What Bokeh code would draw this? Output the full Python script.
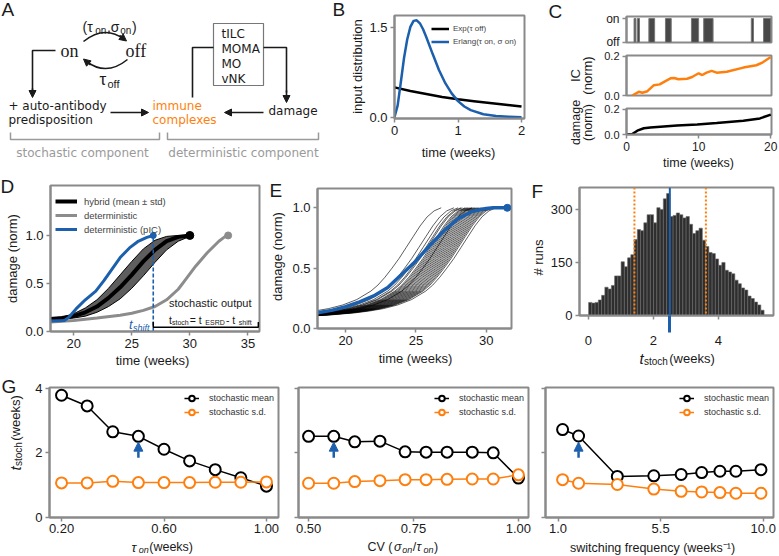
from math import pi

from bokeh.embed import file_html
from bokeh.layouts import column, row
from bokeh.models import (Arrow, FixedTicker, Label, Legend, LegendItem,
                          NormalHead, PrintfTickFormatter, Range1d, Span)
from bokeh.plotting import figure
from bokeh.resources import INLINE

FONT = "Liberation Sans"
DIAG_FONT = "DejaVu Sans"
SERIF = "Liberation Serif"
INK = "#1a1a1a"
BLUE = "#1c5fad"
ORANGE = "#ff7f0e"
FRAME = "#8a8a8a"
DET_GRAY = "#8c8c8c"
NOTE_GRAY = "#9a9a9a"

# ---------------- data ----------------
# B: waiting-time densities (per week)
b_time = [0.0, 0.05, 0.1, 0.15, 0.2, 0.25, 0.3, 0.35, 0.4, 0.45, 0.5, 0.6,
          0.7, 0.8, 0.9, 1.0, 1.1, 1.2, 1.4, 1.6, 1.8, 2.0]
b_erlang = [0.0, 0.20, 0.59, 0.99, 1.30, 1.51, 1.61, 1.62, 1.57, 1.47, 1.34,
            1.06, 0.79, 0.57, 0.40, 0.27, 0.18, 0.12, 0.05, 0.02, 0.01, 0.0]
b_exp_time = [0.0, 0.25, 0.5, 0.75, 1.0, 1.25, 1.5, 1.75, 2.0]
b_exp = [0.50, 0.44, 0.39, 0.34, 0.30, 0.27, 0.24, 0.21, 0.18]

# C: one example run
c_on_start = [1.05, 1.5, 3.1, 5.4, 9.0, 10.7, 17.3, 19.0]
c_on_end = [1.3, 1.8, 3.9, 6.2, 10.0, 12.0, 17.6, 20.0]
c_ic_time = [0.8, 1.7, 2.2, 2.9, 3.8, 4.6, 5.4, 6.1, 6.6, 7.2, 8.4, 9.1,
             10.0, 10.5, 11.1, 11.8, 12.5, 13.9, 16.2, 18.0, 18.9, 20.0]
c_ic = [0.0, 0.019, 0.014, 0.022, 0.053, 0.057, 0.074, 0.088, 0.09, 0.083,
        0.086, 0.095, 0.114, 0.105, 0.117, 0.126, 0.117, 0.122, 0.143, 0.155,
        0.17, 0.197]
c_dmg_time = [0.0, 0.8, 1.5, 2.4, 3.3, 4.7, 7.0, 9.8, 12.5, 16.2, 18.5, 20.0]
c_dmg = [0.0, 0.004, 0.03, 0.049, 0.055, 0.061, 0.07, 0.078, 0.09, 0.108,
         0.127, 0.157]

# D: damage trajectories
d_pic_time = [18.0, 19.2, 19.6, 20.2, 21.0, 21.9, 22.6, 23.3, 24.0, 24.8,
              25.5, 26.3, 26.85]
d_pic = [0.11, 0.115, 0.15, 0.235, 0.33, 0.42, 0.53, 0.65, 0.77, 0.87, 0.935,
         0.98, 1.0]
d_hyb_time = [18, 19, 20, 21, 22, 23, 24, 25, 26, 27, 28, 29, 30]
d_hyb_mean = [0.13, 0.14, 0.16, 0.2, 0.26, 0.35, 0.46, 0.59, 0.73, 0.85,
              0.94, 0.985, 1.0]
d_hyb_lo = [0.125, 0.13, 0.14, 0.16, 0.2, 0.26, 0.34, 0.45, 0.58, 0.72, 0.85,
            0.94, 0.99]
d_hyb_hi = [0.135, 0.15, 0.185, 0.245, 0.33, 0.45, 0.59, 0.73, 0.86, 0.95,
            0.99, 1.0, 1.0]
d_det_time = [18, 20, 22, 24, 25, 26, 27, 28, 29, 29.5, 30, 30.5, 31, 31.5,
              32, 32.5, 33, 33.3]
d_det = [0.10, 0.115, 0.14, 0.17, 0.19, 0.22, 0.26, 0.33, 0.44, 0.52, 0.6,
         0.68, 0.75, 0.82, 0.88, 0.94, 0.985, 1.0]
t_shift = 26.85
t_end_axis = 35.9

# E: single runs (shape relative to end time) and hybrid mean
e_dt = [-14, -13, -12, -11, -10, -9, -8, -7, -6, -5, -4.5, -4, -3.5, -3,
        -2.5, -2, -1.5, -1, -0.5, 0]
e_shape = [0.1, 0.105, 0.11, 0.12, 0.13, 0.145, 0.165, 0.195, 0.24, 0.31,
           0.36, 0.425, 0.5, 0.58, 0.67, 0.76, 0.85, 0.925, 0.975, 1.0]
e_ends = [26.8, 27.7, 28.0, 28.2, 28.3, 28.5, 28.6, 28.7, 28.8, 28.9, 29.0,
          29.0, 29.1, 29.2, 29.3, 29.4, 29.5, 29.6, 29.7, 29.8, 29.9, 30.0,
          30.1, 30.2, 30.3, 30.4, 30.5, 30.7]
e_mean_time = [18, 19, 20, 21, 22, 23, 24, 25, 26, 27, 28, 29, 30, 30.5, 31.5]
e_mean = [0.13, 0.15, 0.18, 0.22, 0.27, 0.34, 0.45, 0.56, 0.69, 0.81, 0.91,
          0.97, 0.995, 1.0, 1.0]

# F: histogram of t_stoch
f_bin_start = 0.01
f_bin_width = 0.1
f_counts = [37, 35, 37, 44, 57, 80, 75, 85, 112, 112,
            152, 138, 163, 172, 215, 243, 240, 262, 285, 285,
            262, 305, 300, 330, 345, 280, 283, 290, 285, 276,
            280, 258, 232, 240, 247, 213, 195, 178, 175, 160,
            142, 150, 128, 123, 118, 100, 90, 78, 72, 55,
            48, 38, 30, 15]
f_mean = 2.51
f_sd_lo = 1.42
f_sd_hi = 3.62

# G: parameter scans
g1_x = [0.2, 0.3, 0.4, 0.5, 0.6, 0.7, 0.8, 0.9, 1.0]
g1_mean = [3.78, 3.45, 2.65, 2.51, 2.11, 1.75, 1.48, 1.23, 0.97]
g1_sd = [1.07, 1.07, 1.12, 1.08, 1.08, 1.08, 1.09, 1.09, 1.10]
g1_ref = 0.5
g2_x = [0.50, 0.56, 0.61, 0.67, 0.73, 0.78, 0.83, 0.89, 0.94, 1.00]
g2_mean = [2.51, 2.51, 2.34, 2.36, 2.03, 2.02, 2.02, 2.02, 2.00, 1.22]
g2_sd = [1.06, 1.06, 1.11, 1.14, 1.17, 1.17, 1.18, 1.19, 1.19, 1.32]
g2_ref = 0.56
g3_x = [1.2, 1.9, 3.6, 5.2, 6.4, 7.3, 8.1, 8.8, 9.9]
g3_mean = [2.72, 2.52, 1.27, 1.29, 1.33, 1.39, 1.43, 1.43, 1.48]
g3_sd = [1.17, 1.06, 1.02, 0.88, 0.81, 0.79, 0.77, 0.75, 0.75]
g3_ref = 1.9

# ---------------- helpers ----------------
CW = {' ': 0.278, '(': 0.333, ')': 0.333, ',': 0.278, '-': 0.333, '=': 0.584,
      '/': 0.278, '.': 0.278, 'i': 0.222, 'l': 0.222, 'j': 0.222, 't': 0.278,
      'f': 0.278, 'r': 0.333, 'm': 0.833, 'w': 0.722, 'c': 0.5, 's': 0.5,
      'k': 0.5, 'v': 0.5, 'x': 0.5, 'y': 0.5, 'z': 0.5, 'E': 0.667,
      'S': 0.667, 'R': 0.722, 'D': 0.722, 'C': 0.722, 'V': 0.667,
      'τ': 0.52, 'σ': 0.62}


def text_width(s, size):
    return sum(CW.get(ch, 0.556) for ch in s) * size * 1.06


def to_data(g, X, Y):
    fl, ft, fw, fh, (x0, x1), (y0, y1) = g
    return x0 + (X - fl) / fw * (x1 - x0), y1 - (Y - ft) / fh * (y1 - y0)


def label(p, g, X, Y, text, size=13, color=INK, font=FONT, style="normal",
          align="left", baseline="middle", angle=0.0):
    x, y = to_data(g, X, Y)
    p.add_layout(Label(x=x, y=y, text=text, text_font=font,
                       text_font_size=f"{size}px", text_font_style=style,
                       text_color=color, text_align=align,
                       text_baseline=baseline, angle=angle))


def rich(p, g, X, Y, parts, color=INK, vertical=False, font=FONT,
         baseline="alphabetic"):
    pos = 0.0
    for text, size, shift, style in parts:
        if vertical:
            x, y = to_data(g, X + shift, Y - pos)
            ang = pi / 2
        else:
            x, y = to_data(g, X + pos, Y + shift)
            ang = 0.0
        p.add_layout(Label(x=x, y=y, text=text, text_font=font,
                           text_font_size=f"{size}px", text_font_style=style,
                           text_color=color, text_align="left",
                           text_baseline=baseline, angle=ang))
        pos += text_width(text, size)


def no_align(p):
    if "frame_align" in p.properties():
        p.frame_align = False


def panel(ox, oy, w, h, fl, ft, fw, fh, xr, yr, xaxis=True, yaxis=True):
    """Plot whose frame sits at absolute page pixels (fl, ft, fw, fh)."""
    left = fl - ox
    top = ft - oy
    p = figure(width=w, height=h, x_range=Range1d(*xr), y_range=Range1d(*yr),
               output_backend="svg", toolbar_location=None,
               x_axis_location="below" if xaxis else None,
               y_axis_location="left" if yaxis else None,
               min_border_left=left, min_border_right=w - left - fw,
               min_border_top=top, min_border_bottom=h - top - fh)
    no_align(p)
    p.outline_line_color = FRAME
    p.outline_line_width = 2
    p.background_fill_color = "white"
    p.border_fill_color = "white"
    p.grid.visible = False
    for ax in p.axis:
        ax.axis_line_color = FRAME
        ax.axis_line_width = 2
        ax.major_tick_line_color = FRAME
        ax.major_tick_line_width = 1.5
        ax.major_tick_in = 0
        ax.major_tick_out = 4
        ax.minor_tick_line_color = None
        ax.major_label_text_font = FONT
        ax.major_label_text_font_size = "13px"
        ax.major_label_text_color = INK
        ax.major_label_standoff = 3
    return p, (fl, ft, fw, fh, xr, yr)


def strip(ox, oy, w, h):
    """Bare canvas for texts; its data x is the page pixel x and y is minus
    the page pixel y."""
    p = figure(width=w, height=h, x_range=Range1d(ox, ox + w),
               y_range=Range1d(-(oy + h), -oy), output_backend="svg",
               toolbar_location=None, x_axis_location=None,
               y_axis_location=None, min_border=0)
    no_align(p)
    p.outline_line_color = None
    p.background_fill_color = "white"
    p.border_fill_color = "white"
    p.grid.visible = False
    return p, (ox, oy, w, h, (ox, ox + w), (-(oy + h), -oy))


def ticks(ax, values, fmt=None):
    ax.ticker = FixedTicker(ticks=values)
    if fmt:
        ax.formatter = PrintfTickFormatter(format=fmt)


def head(p, x0, y0, x1, y1, color=INK, size=7, width=1.6):
    p.add_layout(Arrow(end=NormalHead(size=size, fill_color=color,
                                      line_color=color, line_width=1),
                       x_start=x0, y_start=y0, x_end=x1, y_end=y1,
                       line_color=color, line_width=width))


def letter(p, g, X, Y, s):
    label(p, g, X, Y, s, size=19, baseline="middle")


# ================= row 1 =================
# ---- A: model scheme (data coordinates are page pixels, y downward) ----
pa = figure(width=330, height=170, x_range=Range1d(0, 330),
            y_range=Range1d(170, 0), output_backend="svg",
            toolbar_location=None, x_axis_location=None,
            y_axis_location=None, min_border=0)
no_align(pa)
pa.outline_line_color = None
pa.grid.visible = False
ga = (0, 0, 330, 170, (0, 330), (170, 0))

letter(pa, ga, 1, 9, "A")
rich(pa, ga, 82, 26, [("(τ", 14, 0, "normal"), ("on", 10, 3.5, "normal"),
                      (",σ", 14, 0, "normal"), ("on", 10, 3.5, "normal"),
                      (")", 14, 0, "normal")])
pa.quadratic(x0=83, y0=41, x1=124, y1=39, cx=104, cy=24,
             line_color=INK, line_width=1.6)
head(pa, 119, 35, 126, 40.5)
label(pa, ga, 60, 50, "on", size=18, font=SERIF)
label(pa, ga, 125, 50, "off", size=18, font=SERIF)
pa.quadratic(x0=127, y0=59, x1=86, y1=61, cx=106, cy=76,
             line_color=INK, line_width=1.6)
head(pa, 90, 64.5, 83, 58.5)
label(pa, ga, 99, 79, "τ", size=17, baseline="alphabetic")
label(pa, ga, 107, 83, "off", size=11, baseline="alphabetic")

pa.line([55, 32, 32], [50, 50, 90], line_color=INK, line_width=1.6)
head(pa, 32, 88, 32, 97)
label(pa, ga, 8, 105, "+ auto-antibody", size=12, font=DIAG_FONT)
label(pa, ga, 8, 119, "predisposition", size=12, font=DIAG_FONT)
head(pa, 110, 112, 148, 112)
label(pa, ga, 152, 105, "immune", size=12, font=DIAG_FONT, color=ORANGE)
label(pa, ga, 152, 119, "complexes", size=12, font=DIAG_FONT, color=ORANGE)
head(pa, 263, 112, 224, 112)
label(pa, ga, 268, 110, "damage", size=12, font=DIAG_FONT)

pa.quad(left=213, right=263, top=23, bottom=85, fill_color=None,
        line_color="#777777", line_width=1.2)
for i, cell in enumerate(["tILC", "MOMA", "MO", "vNK"]):
    label(pa, ga, 221, 33 + 15 * i, cell, size=12, font=DIAG_FONT)
pa.line([192, 192, 213], [97, 47, 47], line_color=INK, line_width=1.6)
pa.line([263, 286, 286], [47, 47, 92], line_color=INK, line_width=1.6)
head(pa, 286, 90, 286, 102)

pa.line([10, 10, 159, 159], [132, 139, 139, 132], line_color=NOTE_GRAY,
        line_width=1.5)
pa.line([167, 167, 318, 318], [132, 139, 139, 132], line_color=NOTE_GRAY,
        line_width=1.5)
label(pa, ga, 82, 152, "stochastic component", size=12, font=DIAG_FONT,
      color=NOTE_GRAY, align="center")
label(pa, ga, 243, 152, "deterministic component", size=12, font=DIAG_FONT,
      color=NOTE_GRAY, align="center")

# ---- B: input distributions ----
sb, gsb = strip(330, 0, 36, 170)
letter(sb, gsb, 332, 9, "B")
label(sb, gsb, 357, 66, "input distribution", angle=pi / 2, align="center")

pb, gb = panel(366, 0, 179, 140, 393, 15, 131, 103, (0, 2.047), (-0.02, 1.7))
r_exp = pb.line(b_exp_time, b_exp, line_color="black", line_width=2.5)
r_erl = pb.line(b_time, b_erlang, line_color=BLUE, line_width=2.5)
ticks(pb.xaxis[0], [0, 1, 2], "%d")
ticks(pb.yaxis[0], [0, 1.5], "%.1f")
pb.add_layout(Legend(items=[LegendItem(label="Exp(τ off)", renderers=[r_exp]),
                            LegendItem(label="Erlang(τ on, σ on)",
                                       renderers=[r_erl])],
                     location=(37, 70), label_text_font=FONT,
                     label_text_font_size="8px", glyph_width=18,
                     glyph_height=13, label_height=13, label_standoff=4,
                     spacing=0, padding=2, margin=0,
                     background_fill_alpha=0, border_line_color=None))
sbb, gsbb = strip(366, 140, 179, 30)
label(sbb, gsbb, 458, 152, "time (weeks)", align="center")

# ---- C: example run ----
sc, gsc = strip(545, 0, 51, 170)
letter(sc, gsc, 548, 11, "C")
label(sc, gsc, 575, 75, "IC", angle=pi / 2, align="center")
label(sc, gsc, 587, 75, "(norm)", angle=pi / 2, align="center")
label(sc, gsc, 575, 122, "damage", size=12.5, angle=pi / 2, align="center")
label(sc, gsc, 587, 122, "(norm)", size=12.5, angle=pi / 2, align="center")

C_TICK = "11px"
pc1, gc1 = panel(596, 0, 183, 49, 626, 16, 145, 26, (0, 20.1), (-0.01, 1.085),
                 xaxis=False)
pc1.quad(left=c_on_start, right=c_on_end, bottom=0, top=1,
         fill_color="#484848", line_color="#777777", line_width=1)
ticks(pc1.yaxis[0], [0, 1])
pc1.yaxis.major_label_overrides = {0: "off", 1: "on"}
pc1.yaxis.major_label_text_font_size = "12px"

pc2, gc2 = panel(596, 49, 183, 53, 626, 55, 145, 40, (0, 20.1), (0, 0.205),
                 xaxis=False)
pc2.line(c_ic_time, c_ic, line_color=ORANGE, line_width=2.5)
ticks(pc2.yaxis[0], [0, 0.2], "%.1f")
pc2.yaxis.major_label_text_font_size = C_TICK

pc3, gc3 = panel(596, 102, 183, 53, 626, 108, 145, 26, (0, 20.1), (0, 0.205))
pc3.line(c_dmg_time, c_dmg, line_color="black", line_width=2.5)
ticks(pc3.xaxis[0], [0, 10, 20], "%d")
ticks(pc3.yaxis[0], [0, 0.2], "%.1f")
pc3.yaxis.major_label_text_font_size = C_TICK
pc3.xaxis.major_label_text_font_size = "12px"
sc3b, gsc3b = strip(596, 155, 183, 15)
label(sc3b, gsc3b, 698, 162.5, "time (weeks)", size=12.5, align="center")

# ================= row 2 =================
# ---- D: hybrid vs deterministic ----
sd_, gsd = strip(0, 170, 22, 200)
letter(sd_, gsd, 0, 186, "D")
label(sd_, gsd, 12, 258, "damage (norm)", angle=pi / 2, align="center")

pd, gd = panel(22, 170, 243, 183, 49, 185, 210, 146, (18, 36), (0, 1.52))
pd.varea(x=d_hyb_time, y1=d_hyb_lo, y2=d_hyb_hi, fill_color="#5e5e5e")
pd.line(d_hyb_time, d_hyb_lo, line_color="black", line_width=1)
pd.line(d_hyb_time, d_hyb_hi, line_color="black", line_width=1)
r_hyb = pd.line(d_hyb_time, d_hyb_mean, line_color="black", line_width=4)
r_det = pd.line(d_det_time, d_det, line_color=DET_GRAY, line_width=3)
r_pic = pd.line(d_pic_time, d_pic, line_color=BLUE, line_width=3)
pd.segment(x0=[t_shift], y0=[0], x1=[t_shift], y1=[d_pic[-1]],
           line_color=BLUE, line_width=1.6, line_dash="4 2")
pd.scatter([d_hyb_time[-1]], [d_hyb_mean[-1]], size=8, color="black")
pd.scatter([d_det_time[-1]], [d_det[-1]], size=7, color=DET_GRAY)
pd.scatter([d_pic_time[-1]], [d_pic[-1]], size=6, color=BLUE)
pd.line([t_shift, t_shift, t_end_axis, t_end_axis], [0.1, 0.045, 0.045, 0.1],
        line_color="black", line_width=1.5)
ticks(pd.xaxis[0], [20, 25, 30, 35], "%d")
ticks(pd.yaxis[0], [0, 0.5, 1.0], "%.1f")
pd.add_layout(Legend(items=[
    LegendItem(label="hybrid (mean ± std)", renderers=[r_hyb]),
    LegendItem(label="deterministic", renderers=[r_det]),
    LegendItem(label="deterministic (pIC)", renderers=[r_pic])],
    location=(5, 95), label_text_font=FONT, label_text_font_size="9.5px",
    glyph_width=22, glyph_height=14, label_height=14, label_standoff=7,
    spacing=0, padding=2, margin=0, background_fill_alpha=0,
    border_line_color=None))
label(pd, gd, 168, 302, "stochastic output", size=11)
rich(pd, gd, 168, 319.5, [("t", 10.5, 0, "normal"), ("stoch", 7, 2.5, "normal"),
                          (" = t", 10.5, 0, "normal"), ("ESRD", 7, 2.5, "normal"),
                          (" - t", 10.5, 0, "normal"), ("shift", 7, 2.5, "normal")])
rich(pd, gd, 128, 324, [("t", 13, 0, "italic"), ("shift", 9, 3, "italic")],
     color=BLUE)
sdb, gsdb = strip(22, 353, 243, 17)
label(sdb, gsdb, 152, 360, "time (weeks)", align="center")

# ---- E: single hybrid runs ----
se, gse = strip(265, 170, 24, 200)
letter(se, gse, 269, 190, "E")
label(se, gse, 277, 256, "damage (norm)", angle=pi / 2, align="center")

pe, ge = panel(289, 170, 231, 180, 316, 188, 195, 140, (18, 31.8), (0, 1.16))
run_xs = [[end + d for d in e_dt] for end in e_ends]
run_ys = [list(e_shape) for _ in e_ends]
pe.multi_line(run_xs, run_ys, line_color="black", line_width=0.8,
              line_alpha=0.8)
pe.line(e_mean_time, e_mean, line_color=BLUE, line_width=3.5)
pe.scatter([e_mean_time[-1]], [e_mean[-1]], size=7, color=BLUE)
ticks(pe.xaxis[0], [20, 25, 30], "%d")
ticks(pe.yaxis[0], [0, 0.5, 1.0], "%.1f")
seb, gseb = strip(289, 350, 231, 20)
label(seb, gseb, 415, 358, "time (weeks)", align="center")

# ---- F: distribution of t_stoch ----
sf, gsf = strip(520, 170, 27, 200)
letter(sf, gsf, 531, 191, "F")
label(sf, gsf, 538, 257, "# runs", angle=pi / 2, align="center")

pf, gf = panel(547, 170, 232, 177, 577, 187, 196, 137, (-0.27, 5.7), (0, 362))
f_left = [f_bin_start + f_bin_width * i for i in range(len(f_counts))]
f_right = [x + f_bin_width for x in f_left]
pf.quad(left=f_left, right=f_right, bottom=0, top=f_counts,
        fill_color="#2e2e2e", line_color="#6a6a6a", line_width=0.6)
pf.add_layout(Span(location=f_mean, dimension="height", line_color=BLUE,
                   line_width=2))
for loc in (f_sd_lo, f_sd_hi):
    pf.add_layout(Span(location=loc, dimension="height", line_color=ORANGE,
                       line_width=2, line_dash="2 2"))
pf.xaxis[0].ticker = FixedTicker(ticks=[0, 2, 4], minor_ticks=[f_mean])
pf.xaxis[0].formatter = PrintfTickFormatter(format="%d")
pf.xaxis[0].minor_tick_line_color = BLUE
pf.xaxis[0].minor_tick_line_width = 3
pf.xaxis[0].minor_tick_in = 0
pf.xaxis[0].minor_tick_out = 17
ticks(pf.yaxis[0], [0, 150, 300], "%d")

sfb, gsfb = strip(547, 347, 232, 23)
rich(sfb, gsfb, 639, 358, [("t", 15, 0, "italic"), ("stoch", 10, 3, "normal"),
                           (" (weeks)", 13, 0, "normal")])


# ================= row 3 =================
def scan(p, xs, mean, sd, ref):
    l1 = p.line(xs, mean, line_color="black", line_width=1.5)
    s1 = p.scatter(xs, mean, marker="circle", size=11, fill_color="white",
                   line_color="black", line_width=2)
    l2 = p.line(xs, sd, line_color=ORANGE, line_width=1.5)
    s2 = p.scatter(xs, sd, marker="circle", size=11, fill_color="white",
                   line_color=ORANGE, line_width=2)
    p.add_layout(Arrow(end=NormalHead(size=9, fill_color=BLUE,
                                      line_color=BLUE),
                       x_start=ref, y_start=1.85, x_end=ref, y_end=2.33,
                       line_color=BLUE, line_width=2.5))
    p.add_layout(Legend(items=[LegendItem(label="stochastic mean",
                                          renderers=[l1, s1]),
                               LegendItem(label="stochastic s.d.",
                                          renderers=[l2, s2])],
                        location="top_right", label_text_font=FONT,
                        label_text_font_size="9px", label_text_color="#333333",
                        glyph_width=15, glyph_height=14, label_height=14,
                        label_standoff=10, spacing=0, padding=3, margin=4,
                        background_fill_alpha=0, border_line_color=None))
    ticks(p.yaxis[0], [0, 2, 4], "%d")
    p.xaxis.major_label_standoff = 2


sg, gsg = strip(0, 370, 26, 186)
letter(sg, gsg, 1, 386, "G")
rich(sg, gsg, 15, 470, [("t", 15, 0, "italic"), ("stoch", 10, 3, "normal"),
                        (" (weeks)", 13, 0, "normal")], vertical=True)

pg1, gg1 = panel(26, 370, 259, 168, 49, 387, 229, 130, (0.153, 1.047), (0, 4.02))
scan(pg1, g1_x, g1_mean, g1_sd, g1_ref)
ticks(pg1.xaxis[0], [0.2, 0.6, 1.0], "%.2f")
sg1, gsg1 = strip(26, 538, 259, 18)
rich(sg1, gsg1, 131, 546.5, [("τ", 13, 0, "italic"), ("on", 9, 3, "italic"),
                             (" (weeks)", 12.5, 0, "normal")],
     baseline="middle")

pg2, gg2 = panel(285, 370, 250, 168, 298, 387, 230, 130, (0.476, 1.024), (0, 4.02))
scan(pg2, g2_x, g2_mean, g2_sd, g2_ref)
ticks(pg2.xaxis[0], [0.5, 0.75, 1.0], "%.2f")
pg2.yaxis.major_label_overrides = {0: "", 2: "", 4: ""}
pg2.yaxis.major_label_standoff = 0
sg2, gsg2 = strip(285, 538, 250, 18)
rich(sg2, gsg2, 367, 546.5, [("CV (", 12.5, 0, "normal"), ("σ", 12.5, 0, "italic"),
                             ("on", 9, 3, "italic"), ("/", 12.5, 0, "normal"),
                             ("τ", 12.5, 0, "italic"), ("on", 9, 3, "italic"),
                             (")", 12.5, 0, "normal")],
     baseline="middle")

pg3, gg3 = panel(535, 370, 244, 168, 545, 387, 228, 130, (0.45, 10.45), (0, 4.02))
scan(pg3, g3_x, g3_mean, g3_sd, g3_ref)
ticks(pg3.xaxis[0], [1.0, 5.5, 10.0], "%.1f")
pg3.yaxis.major_label_overrides = {0: "", 2: "", 4: ""}
pg3.yaxis.major_label_standoff = 0
sg3, gsg3 = strip(535, 538, 244, 18)
label(sg3, gsg3, 652, 547, "switching frequency (weeks⁻¹)", size=12.5,
      align="center")

layout = column(
    row(pa, sb, column(pb, sbb, spacing=0), sc,
        column(pc1, pc2, pc3, sc3b, spacing=0), spacing=0),
    row(sd_, column(pd, sdb, spacing=0), se, column(pe, seb, spacing=0), sf,
        column(pf, sfb, spacing=0), spacing=0),
    row(sg, column(pg1, sg1, spacing=0), column(pg2, sg2, spacing=0),
        column(pg3, sg3, spacing=0), spacing=0),
    spacing=0)

open("out.html", "w").write(file_html(layout, INLINE))
